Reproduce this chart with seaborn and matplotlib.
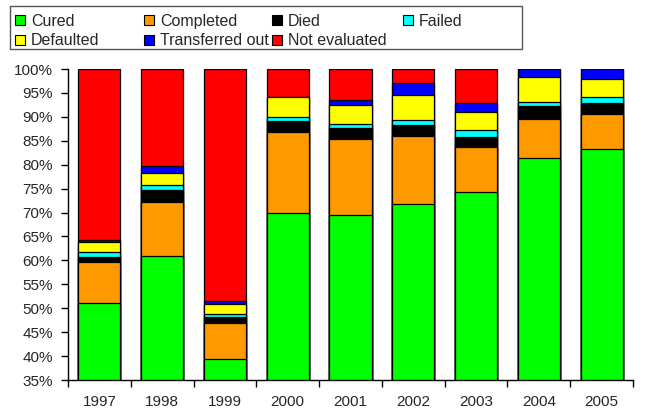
import pandas as pd
import matplotlib
matplotlib.use("Agg")
import matplotlib.pyplot as plt
from matplotlib.patches import Patch, Rectangle
from matplotlib.ticker import FixedLocator, PercentFormatter
import seaborn as sns

# values (% of cases per year)
years = ["1997", "1998", "1999", "2000", "2001", "2002", "2003", "2004", "2005"]
outcomes = ["Cured", "Completed", "Died", "Failed", "Defaulted", "Transferred out", "Not evaluated"]
colors = ["#00FF00", "#FF9900", "#000000", "#00FFFF", "#FFFF00", "#0000FF", "#FF0000"]

cured = [51.0, 61.0, 39.4, 70.0, 69.4, 71.7, 74.2, 81.4, 83.2]
completed = [8.6, 11.1, 7.5, 16.9, 16.0, 14.4, 9.6, 8.2, 7.4]
died = [1.2, 2.6, 1.2, 2.2, 2.3, 2.3, 1.9, 2.6, 2.2]
failed = [1.0, 1.1, 0.6, 0.9, 0.9, 0.9, 1.5, 0.9, 1.3]
defaulted = [2.0, 2.4, 2.1, 4.2, 3.9, 5.3, 3.9, 5.2, 3.8]
transferred = [0.4, 1.5, 0.8, 0.0, 1.0, 2.4, 1.7, 1.7, 2.1]
not_evaluated = [35.8, 20.3, 48.4, 5.8, 6.5, 3.0, 7.2, 0.0, 0.0]

series = [cured, completed, died, failed, defaulted, transferred, not_evaluated]

# long table + cumulative tops for stacking
rows = []
for name, vals in zip(outcomes, series):
    for y, v in zip(years, vals):
        rows.append({"year": y, "outcome": name, "share": v})
df = pd.DataFrame(rows)
df["outcome"] = pd.Categorical(df["outcome"], categories=outcomes, ordered=True)
df = df.sort_values(["year", "outcome"])
df["top"] = df.groupby("year")["share"].cumsum()

sns.set_style("white")
plt.rcParams["font.family"] = ["Liberation Sans", "DejaVu Sans"]
plt.rcParams["font.size"] = 11

fig = plt.figure(figsize=(6.45, 4.12), dpi=100)
ax = fig.add_axes([68 / 645, 1 - 380 / 412, (633 - 68) / 645, (380 - 69) / 412])

# draw tallest layer first so each lower layer covers it
for name, col in reversed(list(zip(outcomes, colors))):
    sub = df[df["outcome"] == name]
    sns.barplot(data=sub, x="year", y="top", order=years, color=col, saturation=1,
                width=0.67, edgecolor="black", linewidth=0.9, errorbar=None, ax=ax)

ax.set_ylim(35, 100)
ax.set_xlim(-0.5, len(years) - 0.5)
ax.yaxis.set_major_locator(FixedLocator(range(35, 101, 5)))
ax.yaxis.set_major_formatter(PercentFormatter(decimals=0))
ax.set_xlabel("")
ax.set_ylabel("")

ax.xaxis.set_minor_locator(FixedLocator([i - 0.5 for i in range(len(years) + 1)]))
ax.tick_params(axis="x", which="major", length=0, pad=11, labelsize=11)
ax.tick_params(axis="x", which="minor", length=5, width=1, color="black", direction="out", bottom=True)
ax.tick_params(axis="y", length=5, width=1, color="black", direction="out", left=True, pad=6, labelsize=11)

for s in ["top", "right"]:
    ax.spines[s].set_visible(False)
for s in ["left", "bottom"]:
    ax.spines[s].set_color("black")
    ax.spines[s].set_linewidth(1)

# legend: 4 fixed columns laid out row by row, inside one frame
handles = [Patch(facecolor=c, edgecolor="black", linewidth=0.8, label=n) for n, c in zip(outcomes, colors)]
col_x = [15, 144, 272, 403]
columns = [[0, 4], [1, 5], [2, 6], [3]]
for x, idx in zip(col_x, columns):
    leg = fig.legend(handles=[handles[i] for i in idx], loc="upper left",
                     bbox_to_anchor=(x / 645, 1 - 14 / 412), frameon=False,
                     borderpad=0, borderaxespad=0, handlelength=0.6, handleheight=0.6,
                     handletextpad=0.4, labelspacing=0.28, fontsize=11.5)
fig.patches.append(Rectangle((10 / 645, 1 - 49 / 412), 512 / 645, 43 / 412,
                             transform=fig.transFigure, fill=False,
                             edgecolor="#555555", linewidth=1))

fig.savefig("out.png", dpi=100)
